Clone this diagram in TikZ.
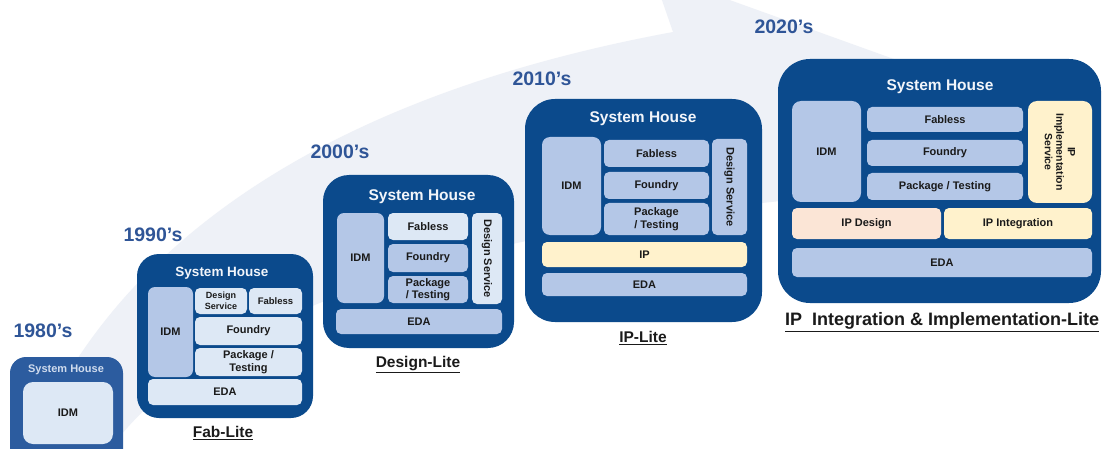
\documentclass[tikz,border=0pt]{standalone}
\usepackage{fontspec}
\setmainfont{Liberation Sans}
\definecolor{sysblue}{HTML}{0B4A8C}
\definecolor{sysblueA}{HTML}{2C5C9F}
\definecolor{yearblue}{HTML}{2F5597}
\definecolor{lightbox}{HTML}{DDE8F5}
\definecolor{midbox}{HTML}{B4C7E7}
\definecolor{ipyellow}{HTML}{FFF2CC}
\definecolor{peach}{HTML}{FBE5D6}
\definecolor{arrowbg}{HTML}{EEF1F7}
\definecolor{inktext}{HTML}{1A1A1A}
\definecolor{headtext}{HTML}{F2F5FA}
\definecolor{headtextA}{HTML}{D0DCEE}
\newcommand\blk[7]{%
  \node[#6, minimum width={(#4-#2)*1pt}, minimum height={(#5-#3)*1pt}] (#1) at ({(#2+#4)/2},{(#3+#5)/2}) {#7};}
\tikzset{
  outer/.style={fill=sysblue, inner sep=0pt},
  inbox/.style={rounded corners=5pt, inner sep=0pt, align=center, text=inktext,
    font=\bfseries\fontsize{11}{12.5}\selectfont},
  lite/.style={inbox, fill=lightbox},
  mid/.style={inbox, fill=midbox},
  ylw/.style={inbox, fill=ipyellow},
  pch/.style={inbox, fill=peach},
  rtxt/.style={rotate=-90, inner sep=0pt, align=center, text=inktext,
    font=\bfseries\fontsize{11}{12.5}\selectfont},
  head/.style={inner sep=0pt, text=headtext, font=\bfseries\fontsize{15.5}{18}\selectfont},
  year/.style={inner sep=0pt, text=yearblue, font=\bfseries\fontsize{19.5}{22}\selectfont},
  litelabel/.style={inner sep=0pt, text=inktext, font=\bfseries\fontsize{15.5}{18}\selectfont},
}
\begin{document}
\begin{tikzpicture}[x=1pt,y=-1pt]
\useasboundingbox (0,0) rectangle (1105,449);
\clip (0,0) rectangle (1105,449);
\fill[white] (0,0) rectangle (1105,449);
% background arrow
\fill[arrowbg] (30,449) .. controls (90,300) and (250,110) .. (673,32) -- (655,-20) -- (674,-20)
  -- (980,90) -- (880,260) -- (790,200) .. controls (500,230) and (220,300) .. (110,449) -- cycle;

% ---------- 1980's ----------
\node[year] (y80) at (43,331) {1980’s};
\blk{b80}{10}{357}{123}{480}{outer, fill=sysblueA, rounded corners=16pt}{}
\node[head, text=headtextA, font=\bfseries\fontsize{11}{13}\selectfont] (b80h) at (66,370) {System House};
\blk{b80idm}{23}{382}{113}{444}{lite, rounded corners=10pt}{IDM}

% ---------- 1990's ----------
\node[year] (y90) at (153,235) {1990’s};
\blk{b90}{137}{254}{313}{418}{outer, rounded corners=22pt}{}
\node[head, font=\bfseries\fontsize{13.5}{16}\selectfont] (b90h) at (222,273) {System House};
\blk{b90idm}{148}{287}{193}{377}{mid, rounded corners=7pt}{IDM}
\blk{b90ds}{195}{288}{247}{314}{lite, font=\bfseries\fontsize{9}{10.5}\selectfont}{Design\\Service}
\blk{b90fab}{249}{288}{302}{314}{lite, font=\bfseries\fontsize{9.5}{11}\selectfont}{Fabless}
\blk{b90fou}{195}{317}{302}{345}{lite}{Foundry}
\blk{b90pkg}{195}{348}{302}{376}{lite}{Package /\\Testing}
\blk{b90eda}{148}{379}{302}{405}{lite}{EDA}
\node[litelabel] (l90) at (223,433) {\underline{Fab-Lite}};

% ---------- 2000's ----------
\node[year] (y00) at (340,152) {2000’s};
\blk{b00}{323}{175}{514}{348}{outer, rounded corners=26pt}{}
\node[head] (b00h) at (422,197) {System House};
\blk{b00idm}{337}{213}{384}{303}{mid, rounded corners=7pt}{IDM}
\blk{b00fab}{388}{213}{468}{240}{lite}{Fabless}
\blk{b00fou}{388}{244}{468}{272}{mid}{Foundry}
\blk{b00pkg}{388}{276}{468}{303}{mid}{Package\\/ Testing}
\blk{b00ds}{472}{213}{502}{304}{lite}{}
\node[rtxt] (b00dst) at (b00ds) {Design Service};
\blk{b00eda}{336}{309}{502}{334}{mid}{EDA}
\node[litelabel] (l00) at (418,365) {\underline{Design-Lite}};

% ---------- 2010's ----------
\node[year] (y10) at (542,79) {2010’s};
\blk{b10}{525}{99}{762}{322}{outer, rounded corners=30pt}{}
\node[head] (b10h) at (643,119) {System House};
\blk{b10idm}{542}{137}{601}{235}{mid, rounded corners=8pt}{IDM}
\blk{b10fab}{604}{140}{709}{167}{mid}{Fabless}
\blk{b10fou}{604}{172}{709}{199}{mid}{Foundry}
\blk{b10pkg}{604}{203}{709}{235}{mid}{Package\\/ Testing}
\blk{b10ds}{712}{139}{747}{235}{mid}{}
\node[rtxt] (b10dst) at (b10ds) {Design Service};
\blk{b10ip}{542}{242}{747}{267}{ylw}{IP}
\blk{b10eda}{542}{273}{747}{296}{mid}{EDA}
\node[litelabel] (l10) at (643,338) {\underline{IP-Lite}};

% ---------- 2020's ----------
\node[year] (y20) at (784,27) {2020’s};
\blk{b20}{778}{59}{1101}{303}{outer, rounded corners=32pt}{}
\node[head] (b20h) at (940,87) {System House};
\blk{b20idm}{792}{101}{861}{202}{mid, rounded corners=9pt}{IDM}
\blk{b20fab}{867}{107}{1023}{132}{mid}{Fabless}
\blk{b20fou}{867}{140}{1023}{166}{mid}{Foundry}
\blk{b20pkg}{867}{173}{1023}{200}{mid}{Package / Testing}
\blk{b20ipis}{1028}{101}{1092}{203}{ylw, rounded corners=9pt}{}
\node[rtxt, font=\bfseries\fontsize{10.5}{11.5}\selectfont] (b20ipist) at (b20ipis) {IP\\Implementation\\Service};
\blk{b20ipd}{792}{208}{941}{239}{pch}{IP Design}
\blk{b20ipi}{944}{208}{1092}{239}{ylw}{IP Integration}
\blk{b20eda}{792}{248}{1092}{277}{mid}{EDA}
\node[litelabel, font=\bfseries\fontsize{18}{21}\selectfont] (l20) at (942,322) {\underline{IP\ \ Integration \& Implementation-Lite}};
\end{tikzpicture}
\end{document}
